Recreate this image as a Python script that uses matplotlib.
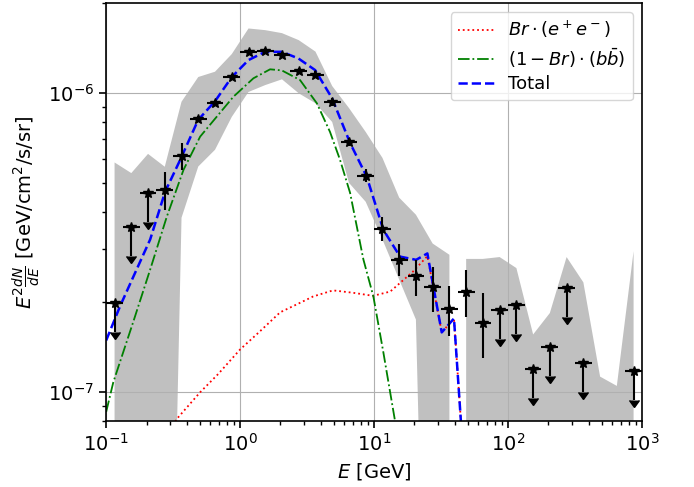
import numpy as np
import matplotlib
matplotlib.use('Agg')
import matplotlib.pyplot as plt

# energy bin edges [GeV], 8 bins per decade
e_edges = [0.1, 0.1334, 0.1778, 0.2371, 0.3162, 0.4217, 0.5623, 0.7499,
           1.0, 1.334, 1.778, 2.371, 3.162, 4.217, 5.623, 7.499,
           10.0, 13.34, 17.78, 23.71, 31.62, 42.17, 56.23, 74.99,
           100.0, 133.4, 177.8, 237.1, 316.2, 421.7, 562.3, 749.9, 1000.0]

# systematic band per bin (lower values below the axis where it reaches the bottom)
band_hi = [5.86e-7, 5.40e-7, 6.26e-7, 5.67e-7, 9.35e-7, 1.131e-6, 1.178e-6, 1.349e-6,
           1.643e-6, 1.622e-6, 1.585e-6, 1.502e-6, 1.375e-6, 1.055e-6, 8.91e-7, 7.41e-7,
           6.07e-7, 4.47e-7, 3.92e-7, 3.14e-7, 2.88e-7, 2.79e-7, 2.79e-7, 2.83e-7,
           2.60e-7, 1.56e-7, 1.84e-7, 2.83e-7, 2.33e-7, 1.128e-7, 1.05e-7, 2.96e-7]
band_lo = [1e-9, 1e-9, 1e-9, 1e-9, 3.83e-7, 5.68e-7, 6.46e-7, 8.32e-7,
           1.008e-6, 1.063e-6, 1.111e-6, 9.98e-7, 9.24e-7, 8.00e-7, 5.01e-7, 4.33e-7,
           3.24e-7, 2.38e-7, 1.75e-7, 1e-9, 1e-9, 1e-9, 1e-9, 1e-9,
           1e-9, 1e-9, 1e-9, 1e-9, 1e-9, 1e-9, 1e-9, 1e-9]

# measured points
det_bins = [3, 4, 5, 6, 7, 8, 9, 10, 11, 12, 13, 14, 15, 16, 17, 18, 19, 20, 21, 22]
det_flux = [4.75e-7, 6.17e-7, 8.17e-7, 9.26e-7, 1.131e-6, 1.367e-6, 1.380e-6, 1.344e-6,
            1.187e-6, 1.152e-6, 9.33e-7, 6.88e-7, 5.30e-7, 3.52e-7, 2.77e-7, 2.45e-7,
            2.25e-7, 1.90e-7, 2.17e-7, 1.71e-7]
det_up = [5.45e-7, 6.81e-7, 8.37e-7, 9.48e-7, 1.158e-6, 1.40e-6, 1.413e-6, 1.376e-6,
          1.215e-6, 1.18e-6, 9.6e-7, 7.1e-7, 5.58e-7, 3.86e-7, 3.14e-7, 2.77e-7,
          2.63e-7, 2.27e-7, 2.56e-7, 2.14e-7]
det_down = [4.07e-7, 5.54e-7, 7.98e-7, 9.05e-7, 1.105e-6, 1.335e-6, 1.348e-6, 1.313e-6,
            1.16e-6, 1.125e-6, 9.07e-7, 6.67e-7, 5.05e-7, 3.19e-7, 2.44e-7, 2.10e-7,
            1.86e-7, 1.54e-7, 1.78e-7, 1.30e-7]

# upper limits
ul_bins = [0, 1, 2, 23, 24, 25, 26, 27, 28, 31]
ul_flux = [1.98e-7, 3.58e-7, 4.64e-7, 1.89e-7, 1.96e-7, 1.20e-7, 1.42e-7, 2.23e-7,
           1.25e-7, 1.18e-7]

# model curves
ee_e = [0.300, 0.333, 0.503, 0.685, 1.0, 1.41, 1.99, 2.80, 3.51, 4.94, 6.97, 9.83,
        13.2, 19.5, 25.0, 32.0, 39.5, 45.4]
ee_f = [7.2e-8, 8.1e-8, 1.0e-7, 1.15e-7, 1.39e-7, 1.60e-7, 1.85e-7, 1.99e-7, 2.09e-7,
        2.19e-7, 2.15e-7, 2.10e-7, 2.17e-7, 2.53e-7, 2.85e-7, 1.585e-7, 1.764e-7, 7.0e-8]

bb_e = [0.1, 0.113, 0.16, 0.213, 0.284, 0.378, 0.503, 0.670, 0.891, 1.257, 1.674,
        2.047, 2.80, 3.74, 4.69, 5.57, 6.62, 8.32, 9.88, 11.73, 14.35, 15.1]
bb_f = [8.6e-8, 1.08e-7, 1.73e-7, 2.57e-7, 3.87e-7, 5.54e-7, 7.15e-7, 8.34e-7, 9.72e-7,
        1.12e-6, 1.20e-6, 1.19e-6, 1.105e-6, 9.24e-7, 7.41e-7, 5.98e-7, 4.64e-7,
        2.78e-7, 2.09e-7, 1.36e-7, 8.0e-8, 7.0e-8]

tot_e = [0.1, 0.127, 0.16, 0.213, 0.2756, 0.357, 0.486, 0.651, 0.867, 1.153, 1.537,
         2.047, 2.72, 3.63, 4.86, 6.62, 8.82, 11.73, 15.63, 20.6, 25.0, 32.0, 39.5, 45.4]
tot_f = [1.49e-7, 1.94e-7, 2.44e-7, 3.24e-7, 4.68e-7, 5.98e-7, 8.13e-7, 9.40e-7,
         1.131e-6, 1.288e-6, 1.373e-6, 1.373e-6, 1.305e-6, 1.193e-6, 9.60e-7, 6.81e-7,
         5.25e-7, 3.49e-7, 2.84e-7, 2.77e-7, 2.91e-7, 1.585e-7, 1.764e-7, 7.0e-8]

e_lo = np.array(e_edges[:-1])
e_hi = np.array(e_edges[1:])
e_mid = np.sqrt(e_lo * e_hi)

fig = plt.figure(figsize=(6.94, 4.87), dpi=100)
ax = fig.add_subplot(111)

# band, broken between the 20th and 21st bin
ax.fill_between(e_mid[:21], band_lo[:21], band_hi[:21], color='silver', lw=0)
ax.fill_between(e_mid[21:], band_lo[21:], band_hi[21:], color='silver', lw=0)

ax.plot(ee_e, ee_f, 'r:', lw=1.3, label=r'$Br\cdot(e^+e^-)$')
ax.plot(bb_e, bb_f, 'g-.', lw=1.3, label=r'$(1-Br)\cdot(b\bar{b})$')
ax.plot(tot_e, tot_f, 'b--', lw=1.8, label='Total')

d = np.array(det_bins)
f = np.array(det_flux)
ax.errorbar(e_mid[d], f, xerr=[e_mid[d] - e_lo[d], e_hi[d] - e_mid[d]],
            yerr=[f - np.array(det_down), np.array(det_up) - f],
            fmt='k*', ms=7, elinewidth=1.5, capsize=0, zorder=5)

u = np.array(ul_bins)
fu = np.array(ul_flux)
ax.errorbar(e_mid[u], fu, xerr=[e_mid[u] - e_lo[u], e_hi[u] - e_mid[u]],
            fmt='k*', ms=7, elinewidth=1.5, capsize=0, zorder=5)
ax.errorbar(e_mid[u], fu, yerr=0.2 * fu, uplims=True, fmt='none', color='k',
            elinewidth=1.5, capsize=3.5, zorder=5)

ax.set_xscale('log')
ax.set_yscale('log')
ax.set_xlim(0.1, 1000)
ax.set_ylim(8e-8, 2e-6)
ax.grid(True, which='major', color='#b0b0b0', lw=0.8)
ax.tick_params(which='major', length=5, width=1.2, labelsize=14)
ax.tick_params(which='minor', length=3, width=1.0)
for s in ax.spines.values():
    s.set_linewidth(1.2)

ax.set_xlabel(r'$E$ [GeV]', fontsize=14)
ax.set_ylabel(r'$E^2\frac{dN}{dE}$ [GeV/cm$^2$/s/sr]', fontsize=14)
ax.legend(loc='upper right', fontsize=13, labelspacing=0.3)

fig.subplots_adjust(left=0.153, right=0.925, bottom=0.135, top=0.994)
plt.savefig('out.png', dpi=100)
